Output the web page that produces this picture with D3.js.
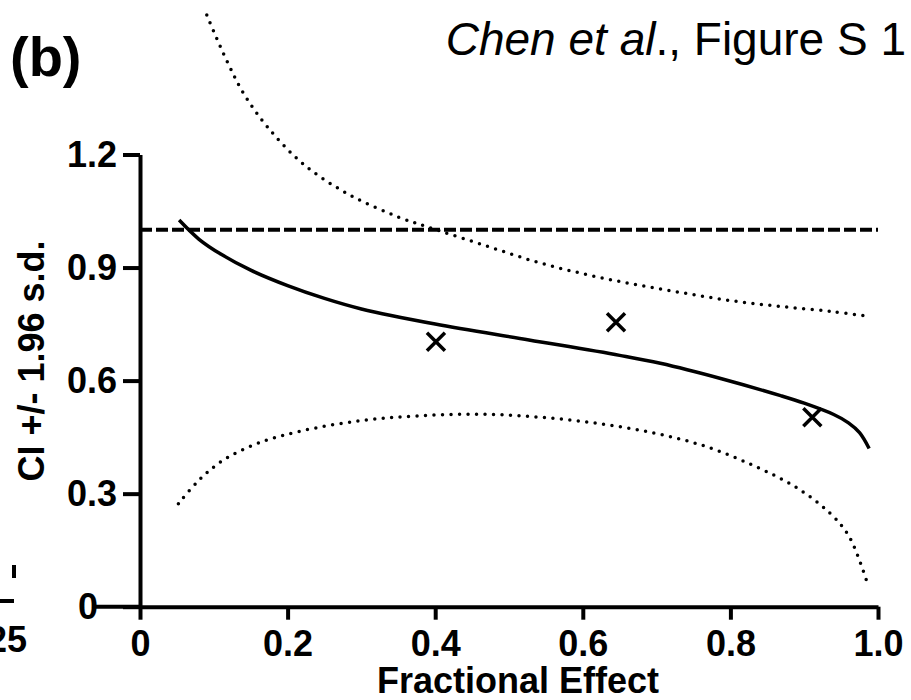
<!DOCTYPE html>
<html>
<head>
<meta charset="utf-8">
<script src="https://cdn.jsdelivr.net/npm/d3@7"></script>
<style>
  body { margin: 0; background: #fff; }
  svg { display: block; font-family: "Liberation Sans", Arial, sans-serif; }
  .axis path, .axis line { stroke: #000; stroke-width: 4; }
  .axis text { font-size: 36px; font-weight: bold; fill: #000; }
</style>
</head>
<body>
<div id="chart"></div>
<script>
// values
const fitX = [0.053, 0.08, 0.11, 0.15, 0.20, 0.25, 0.30, 0.40, 0.527, 0.65, 0.705, 0.788, 0.868, 0.90, 0.94, 0.96, 0.975, 0.988];
const fitY = [1.026, 0.975, 0.935, 0.893, 0.852, 0.818, 0.790, 0.750, 0.708, 0.667, 0.646, 0.605, 0.560, 0.540, 0.510, 0.488, 0.462, 0.420];

const upperX = [0.0905, 0.117, 0.141, 0.174, 0.221, 0.282, 0.349, 0.402, 0.470, 0.537, 0.604, 0.671, 0.738, 0.805, 0.872, 0.939, 0.989];
const upperY = [1.570, 1.451, 1.360, 1.270, 1.175, 1.095, 1.035, 1.000, 0.957, 0.915, 0.882, 0.855, 0.832, 0.811, 0.796, 0.783, 0.770];

const lowerX = [0.052, 0.080, 0.113, 0.160, 0.220, 0.300, 0.374, 0.454, 0.534, 0.614, 0.694, 0.767, 0.834, 0.888, 0.935, 0.961, 0.985];
const lowerY = [0.273, 0.336, 0.389, 0.434, 0.467, 0.494, 0.506, 0.511, 0.504, 0.488, 0.462, 0.425, 0.372, 0.318, 0.248, 0.186, 0.066];

const obsX = [0.401, 0.645, 0.911];
const obsY = [0.703, 0.755, 0.503];

const refLevel = 1.0;

const xTicks = [0, 0.2, 0.4, 0.6, 0.8, 1.0];
const xTickLabels = ["0", "0.2", "0.4", "0.6", "0.8", "1.0"];
const yTicks = [0, 0.3, 0.6, 0.9, 1.2];
const yTickLabels = ["0", "0.3", "0.6", "0.9", "1.2"];

const W = 911, H = 700;

const svg = d3.select("#chart").append("svg")
  .attr("width", W)
  .attr("height", H);

const x = d3.scaleLinear().domain([0, 1]).range([140, 878]);
const y = d3.scaleLinear().domain([0, 1.2]).range([606.7, 154.5]);

// bits of the neighbouring panel (a), cut off at the left edge
svg.append("text")
  .attr("x", 27).attr("y", 652)
  .attr("text-anchor", "end")
  .style("font-size", "36px").style("font-weight", "bold")
  .text("25");
svg.append("line").attr("x1", 0).attr("x2", 14).attr("y1", 601).attr("y2", 601)
  .attr("stroke", "#000").attr("stroke-width", 4);
svg.append("line").attr("x1", 14).attr("x2", 14).attr("y1", 565).attr("y2", 578)
  .attr("stroke", "#000").attr("stroke-width", 4);

// axes
svg.append("g")
  .attr("class", "axis")
  .attr("transform", `translate(0,${y(0)})`)
  .call(d3.axisBottom(x)
    .tickValues(xTicks)
    .tickFormat((d, i) => xTickLabels[i])
    .tickSize(13)
    .tickSizeOuter(0)
    .tickPadding(11));

// the x axis line runs on to the left through the y "0" label
svg.append("line")
  .attr("x1", 96).attr("x2", x(0))
  .attr("y1", y(0)).attr("y2", y(0))
  .attr("stroke", "#000").attr("stroke-width", 4);

const yAxis = svg.append("g")
  .attr("class", "axis")
  .attr("transform", `translate(${x(0)},0)`)
  .call(d3.axisLeft(y)
    .tickValues(yTicks)
    .tickFormat((d, i) => yTickLabels[i])
    .tickSize(17)
    .tickSizeOuter(0)
    .tickPadding(6));

yAxis.selectAll(".tick")
  .filter(d => d === 0)
  .select("text")
  .attr("x", -42);

// axis titles
svg.append("text")
  .attr("transform", `translate(44,361) rotate(-90)`)
  .attr("text-anchor", "middle")
  .style("font-size", "36px").style("font-weight", "bold")
  .text("CI +/- 1.96 s.d.");

svg.append("text")
  .attr("x", 518).attr("y", 693)
  .attr("text-anchor", "middle")
  .style("font-size", "36px").style("font-weight", "bold")
  .text("Fractional Effect");

// panel label and figure caption
svg.append("text")
  .attr("x", 10).attr("y", 76)
  .style("font-size", "56px").style("font-weight", "bold")
  .text("(b)");

const cap = svg.append("text")
  .attr("x", 906).attr("y", 55)
  .attr("text-anchor", "end")
  .style("font-size", "46px");
cap.append("tspan").style("font-style", "italic").text("Chen et al");
cap.append("tspan").text("., Figure S 1");

// reference level
svg.append("line")
  .attr("x1", x(0)).attr("x2", x(1))
  .attr("y1", y(refLevel)).attr("y2", y(refLevel))
  .attr("stroke", "#000").attr("stroke-width", 4)
  .attr("stroke-dasharray", "12,4");

const line = d3.line()
  .x(d => x(d[0]))
  .y(d => y(d[1]))
  .curve(d3.curveCatmullRom);

// confidence bounds (dotted)
[[upperX, upperY], [lowerX, lowerY]].forEach(([xs, ys]) => {
  svg.append("path")
    .datum(xs.map((v, i) => [v, ys[i]]))
    .attr("d", line)
    .attr("fill", "none")
    .attr("stroke", "#000")
    .attr("stroke-width", 3.5)
    .attr("stroke-linecap", "round")
    .attr("stroke-dasharray", "0,8.5");
});

// fitted curve
svg.append("path")
  .datum(fitX.map((v, i) => [v, fitY[i]]))
  .attr("d", line)
  .attr("fill", "none")
  .attr("stroke", "#000")
  .attr("stroke-width", 3.5);

// observed points as crosses
const s = 9;
svg.append("g").selectAll("path")
  .data(obsX.map((v, i) => [v, obsY[i]]))
  .join("path")
  .attr("d", d => {
    const cx = x(d[0]), cy = y(d[1]);
    return `M${cx - s},${cy - s}L${cx + s},${cy + s}M${cx - s},${cy + s}L${cx + s},${cy - s}`;
  })
  .attr("stroke", "#000")
  .attr("stroke-width", 3.5)
  .attr("fill", "none");
</script>
</body>
</html>
